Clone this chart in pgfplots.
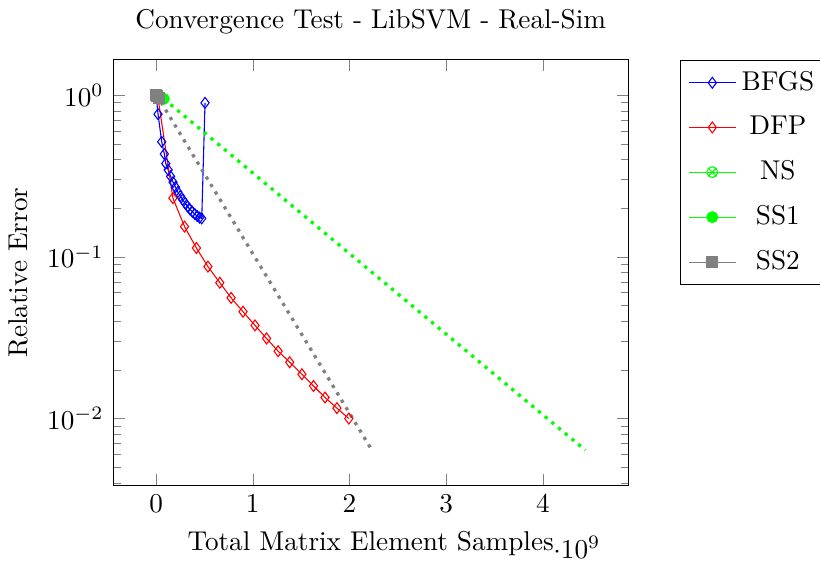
\documentclass[border=0pt]{standalone}
\usepackage{pgfplots}
\pgfplotsset{compat=1.18}
\begin{document}
\begin{tikzpicture}[trim right=260pt]
\begin{axis}[
  width=189.5pt, height=156.7pt, scale only axis,
  ymode=log,
  title={Convergence Test - LibSVM - Real-Sim},
  xlabel={Total Matrix Element Samples},
  ylabel={Relative Error},
  legend cell align=center,
  legend style={at={(1.1,1)}, anchor=north west, row sep=4pt},
]
\addplot[blue, mark=diamond] coordinates {
 (0,1.0) (0.02e9,0.764) (0.058e9,0.515) (0.085e9,0.433) (0.10e9,0.378)
 (0.125e9,0.345) (0.15e9,0.315) (0.175e9,0.29) (0.2e9,0.27) (0.225e9,0.252)
 (0.25e9,0.238) (0.275e9,0.226) (0.3e9,0.215) (0.325e9,0.205) (0.35e9,0.197)
 (0.375e9,0.19) (0.4e9,0.184) (0.425e9,0.179) (0.45e9,0.175) (0.472e9,0.173)
 (0.506e9,0.897)
};
\addlegendentry{BFGS}
\addplot[red, mark=diamond] coordinates {
 (0,1.0) (0.02e9,0.96) (0.174e9,0.231) (0.294e9,0.154) (0.417e9,0.1135)
 (0.536e9,0.0871) (0.659e9,0.0692) (0.776e9,0.0558) (0.899e9,0.0458)
 (1.023e9,0.0377) (1.142e9,0.0313) (1.262e9,0.0261) (1.382e9,0.0223)
 (1.508e9,0.0188) (1.628e9,0.0159) (1.747e9,0.0135) (1.870e9,0.0116)
 (1.993e9,0.0100)
};
\addlegendentry{DFP}
\addplot[green, mark=otimes] coordinates {
 (0,1.0) (0.02e9,0.98)
};
\addlegendentry{NS}
\addlegendimage{green, mark=*}
\addlegendentry{SS1}
\addlegendimage{gray, mark=square*}
\addlegendentry{SS2}
\addplot[green, very thick, dotted, mark=*, mark options={solid, thin}, mark indices={1,2,3}, forget plot] coordinates {
 (0,1.0) (0.04e9,0.97) (0.08e9,0.95) (4.44e9,0.00637)
};
\addplot[gray, very thick, dotted, mark=square*, mark options={solid, thin}, mark indices={1,2,3}, forget plot] coordinates {
 (0,1.0) (0.01e9,0.99) (0.025e9,0.96) (2.23e9,0.0064)
};
\end{axis}
\end{tikzpicture}
\end{document}
